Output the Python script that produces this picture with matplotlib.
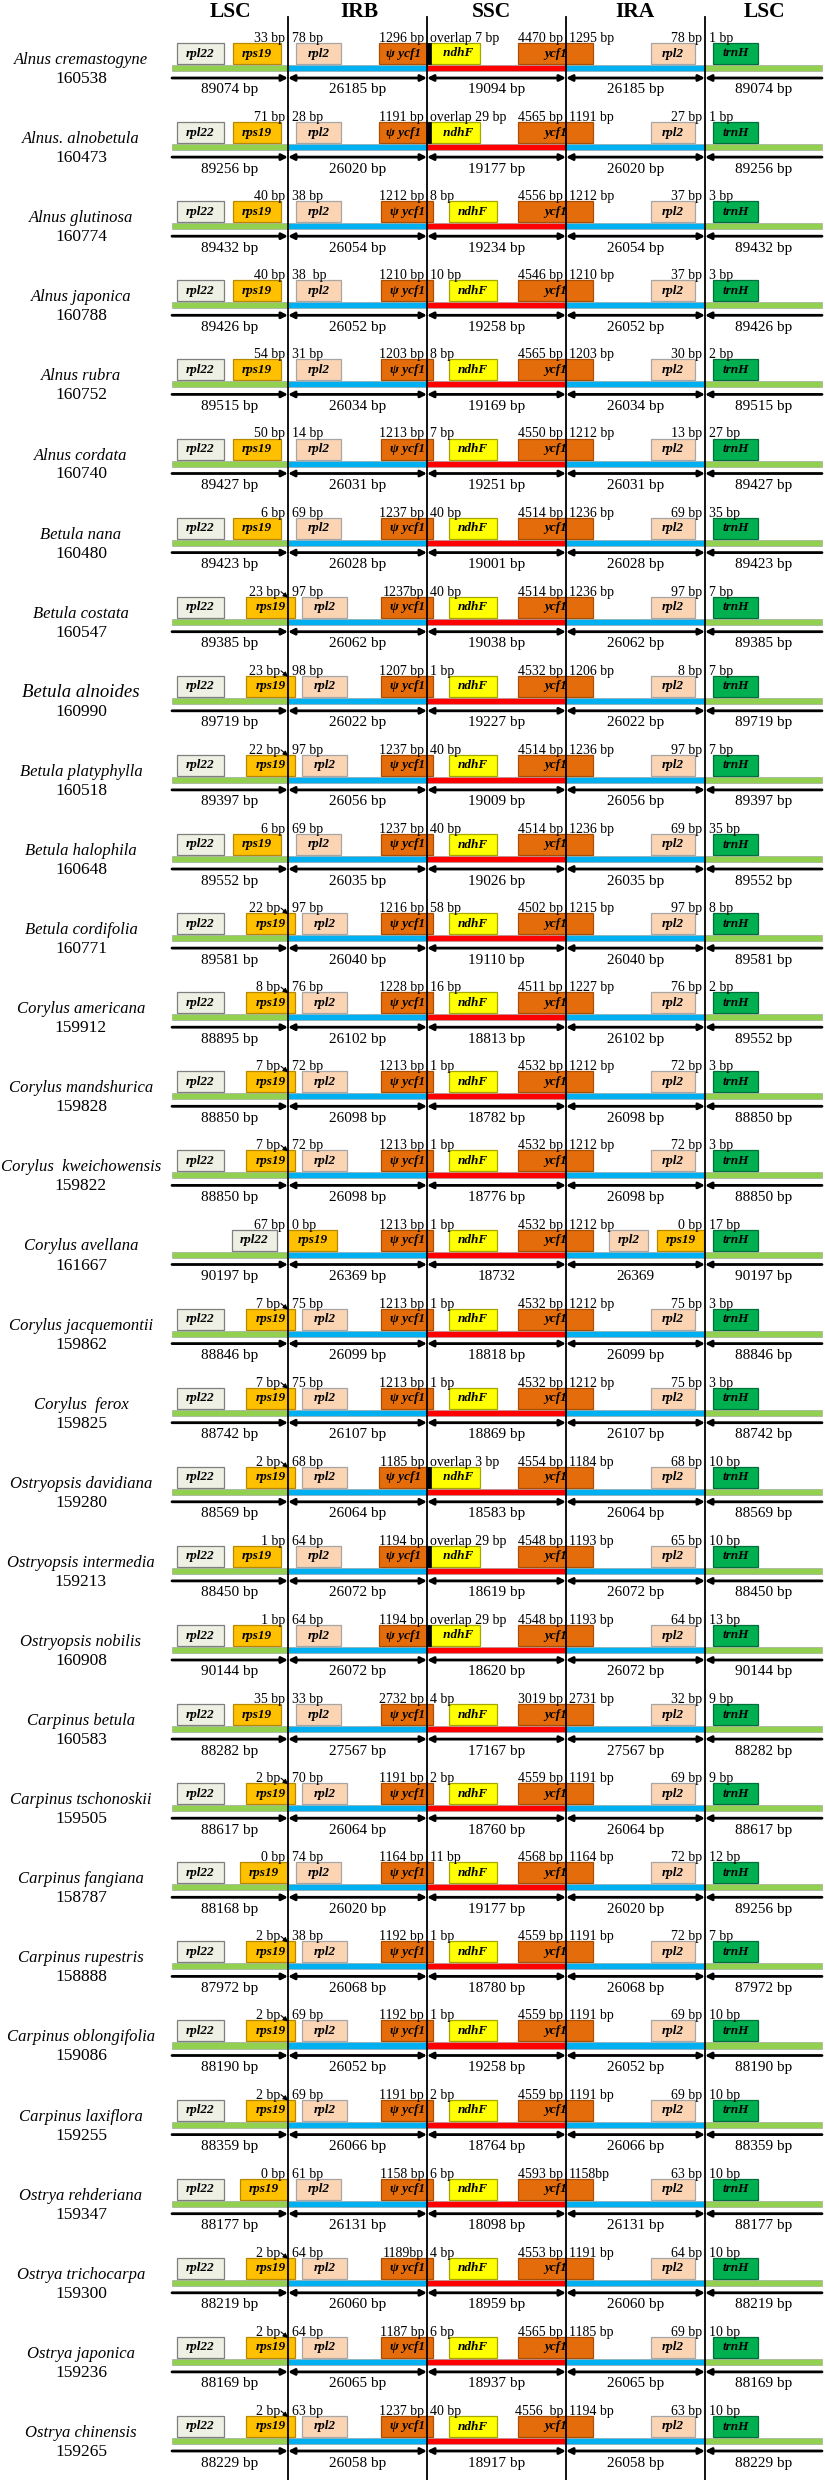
import matplotlib
matplotlib.use('Agg')
import matplotlib.pyplot as plt
from matplotlib.patches import Rectangle

plt.rcParams['font.family'] = ['Liberation Serif', 'DejaVu Serif']

# ---- data ----
species = ['Alnus cremastogyne', 'Alnus. alnobetula', 'Alnus glutinosa', 'Alnus japonica',
           'Alnus rubra', 'Alnus cordata', 'Betula nana', 'Betula costata', 'Betula alnoides',
           'Betula platyphylla', 'Betula halophila', 'Betula cordifolia', 'Corylus americana',
           'Corylus mandshurica', 'Corylus  kweichowensis', 'Corylus avellana',
           'Corylus jacquemontii', 'Corylus  ferox', 'Ostryopsis davidiana',
           'Ostryopsis intermedia', 'Ostryopsis nobilis', 'Carpinus betula',
           'Carpinus tschonoskii', 'Carpinus fangiana', 'Carpinus rupestris',
           'Carpinus oblongifolia', 'Carpinus laxiflora', 'Ostrya rehderiana',
           'Ostrya trichocarpa', 'Ostrya japonica', 'Ostrya chinensis']
genome = [160538, 160473, 160774, 160788, 160752, 160740, 160480, 160547, 160990, 160518,
          160648, 160771, 159912, 159828, 159822, 161667, 159862, 159825, 159280, 159213,
          160908, 160583, 159505, 158787, 158888, 159086, 159255, 159347, 159300, 159236,
          159265]
lsc = [89074, 89256, 89432, 89426, 89515, 89427, 89423, 89385, 89719, 89397, 89552, 89581,
       88895, 88850, 88850, 90197, 88846, 88742, 88569, 88450, 90144, 88282, 88617, 88168,
       87972, 88190, 88359, 88177, 88219, 88169, 88229]
lsc_right = [89074, 89256, 89432, 89426, 89515, 89427, 89423, 89385, 89719, 89397, 89552, 89581,
             89552, 88850, 88850, 90197, 88846, 88742, 88569, 88450, 90144, 88282, 88617, 89256,
             87972, 88190, 88359, 88177, 88219, 88169, 88229]
ir = [26185, 26020, 26054, 26052, 26034, 26031, 26028, 26062, 26022, 26056, 26035, 26040,
      26102, 26098, 26098, 26369, 26099, 26107, 26064, 26072, 26072, 27567, 26064, 26020,
      26068, 26052, 26066, 26131, 26060, 26065, 26058]
ssc = [19094, 19177, 19234, 19258, 19169, 19251, 19001, 19038, 19227, 19009, 19026, 19110,
       18813, 18782, 18776, 18732, 18818, 18869, 18583, 18619, 18620, 17167, 18760, 19177,
       18780, 19258, 18764, 18098, 18959, 18937, 18917]

lab_rps19 = ['33 bp', '71 bp', '40 bp', '40 bp', '54 bp', '50 bp', '6 bp', '23 bp', '23 bp',
             '22 bp', '6 bp', '22 bp', '8 bp', '7 bp', '7 bp', '67 bp', '7 bp', '7 bp', '2 bp',
             '1 bp', '1 bp', '35 bp', '2 bp', '0 bp', '2 bp', '2 bp', '2 bp', '0 bp', '2 bp',
             '2 bp', '2 bp']
lab_irb = ['78 bp', '28 bp', '38 bp', '38  bp', '31 bp', '14 bp', '69 bp', '97 bp', '98 bp',
           '97 bp', '69 bp', '97 bp', '76 bp', '72 bp', '72 bp', '0 bp', '75 bp', '75 bp',
           '68 bp', '64 bp', '64 bp', '33 bp', '70 bp', '74 bp', '38 bp', '69 bp', '69 bp',
           '61 bp', '64 bp', '64 bp', '63 bp']
lab_psi = ['1296 bp', '1191 bp', '1212 bp', '1210 bp', '1203 bp', '1213 bp', '1237 bp',
           '1237bp', '1207 bp', '1237 bp', '1237 bp', '1216 bp', '1228 bp', '1213 bp',
           '1213 bp', '1213 bp', '1213 bp', '1213 bp', '1185 bp', '1194 bp', '1194 bp',
           '2732 bp', '1191 bp', '1164 bp', '1192 bp', '1192 bp', '1191 bp', '1158 bp',
           '1189bp', '1187 bp', '1237 bp']
lab_ndhf = ['overlap 7 bp', 'overlap 29 bp', '8 bp', '10 bp', '8 bp', '7 bp', '40 bp', '40 bp',
            '1 bp', '40 bp', '40 bp', '58 bp', '16 bp', '1 bp', '1 bp', '1 bp', '1 bp', '1 bp',
            'overlap 3 bp', 'overlap 29 bp', 'overlap 29 bp', '4 bp', '2 bp', '11 bp', '1 bp',
            '1 bp', '2 bp', '6 bp', '4 bp', '6 bp', '40 bp']
lab_ycf1 = ['4470 bp', '4565 bp', '4556 bp', '4546 bp', '4565 bp', '4550 bp', '4514 bp',
            '4514 bp', '4532 bp', '4514 bp', '4514 bp', '4502 bp', '4511 bp', '4532 bp',
            '4532 bp', '4532 bp', '4532 bp', '4532 bp', '4554 bp', '4548 bp', '4548 bp',
            '3019 bp', '4559 bp', '4568 bp', '4559 bp', '4559 bp', '4559 bp', '4593 bp',
            '4553 bp', '4565 bp', '4556  bp']
lab_ira = ['1295 bp', '1191 bp', '1212 bp', '1210 bp', '1203 bp', '1212 bp', '1236 bp',
           '1236 bp', '1206 bp', '1236 bp', '1236 bp', '1215 bp', '1227 bp', '1212 bp',
           '1212 bp', '1212 bp', '1212 bp', '1212 bp', '1184 bp', '1193 bp', '1193 bp',
           '2731 bp', '1191 bp', '1164 bp', '1191 bp', '1191 bp', '1191 bp', '1158bp',
           '1191 bp', '1185 bp', '1194 bp']
lab_rpl2 = ['78 bp', '27 bp', '37 bp', '37 bp', '30 bp', '13 bp', '69 bp', '97 bp', '8 bp',
            '97 bp', '69 bp', '97 bp', '76 bp', '72 bp', '72 bp', '0 bp', '75 bp', '75 bp',
            '68 bp', '65 bp', '64 bp', '32 bp', '69 bp', '72 bp', '72 bp', '69 bp', '69 bp',
            '63 bp', '64 bp', '69 bp', '63 bp']
lab_trnh = ['1 bp', '1 bp', '3 bp', '3 bp', '2 bp', '27 bp', '35 bp', '7 bp', '7 bp', '7 bp',
            '35 bp', '8 bp', '2 bp', '3 bp', '3 bp', '17 bp', '3 bp', '3 bp', '10 bp', '10 bp',
            '13 bp', '9 bp', '9 bp', '12 bp', '7 bp', '10 bp', '10 bp', '10 bp', '10 bp',
            '10 bp', '10 bp']

# where rps19 sits at the LSC/IRb junction
rps19_pos = ['in', 'in', 'in', 'in', 'in', 'in', 'in', 'cross', 'cross', 'cross', 'in', 'cross',
             'cross', 'cross', 'cross', 'irb', 'cross', 'cross', 'cross', 'in', 'in', 'in',
             'cross', 'edge', 'cross', 'cross', 'cross', 'edge', 'cross', 'cross', 'cross']
no_bp = {(15, 'ssc'), (15, 'ira')}   # Corylus avellana prints these without "bp"

regions = ['LSC', 'IRB', 'SSC', 'IRA', 'LSC']

# ---- layout ----
W, H = 825, 2480
JL = [288, 427, 566, 705]        # junction lines
X0, X1 = 172, 822
C = dict(rpl22='#EEF0E3', rps19='#FFC000', rpl2='#FBD4B4', ycf1='#E46C0A',
         ndhF='#FFFF00', trnH='#00B050', lsc='#92D050', ir='#00B0F0', ssc='#FF0000')
EC = dict(rpl22='#7F7F7F', rps19='#B58800', rpl2='#A6A6A6', ycf1='#A84F07',
          ndhF='#A6A600', trnH='#00703A')

fig = plt.figure(figsize=(W / 100, H / 100), dpi=100)
ax = fig.add_axes([0, 0, 1, 1])
ax.set_xlim(0, W)
ax.set_ylim(H, 0)
ax.axis('off')

# header
for name, xc in zip(regions, [231, 359, 491, 635, 764]):
    ax.text(xc, 12, name, ha='center', va='center', fontsize=15.5, fontweight='bold')
for x in JL:
    ax.plot([x, x], [17, H], color='black', lw=1.3, zorder=6)


def gene(x0, x1, y0, key, name):
    ax.add_patch(Rectangle((x0, y0 - 25), x1 - x0, 21, fc=C[key], ec=EC[key], lw=0.9, zorder=3))
    ax.text((x0 + x1) / 2, y0 - 14.5, name, ha='center', va='center', fontsize=9.5,
            fontweight='bold', style='italic', zorder=4)


def num(x, y0, s, ha):
    ax.text(x, y0 - 26, s, ha=ha, va='baseline', fontsize=10, zorder=7)


for i in range(len(species)):
    y0 = 68 + 79.1 * i

    # species and genome size
    fs = 13.5 if species[i] == 'Betula alnoides' else 12
    ax.text(81, y0 - 8, species[i], ha='center', va='center', fontsize=fs, style='italic')
    ax.text(81, y0 + 11, str(genome[i]), ha='center', va='center', fontsize=12.5)

    # region bar
    edges = [X0] + JL + [X1]
    cols = [C['lsc'], C['ir'], C['ssc'], C['ir'], C['lsc']]
    for a, b, c in zip(edges[:-1], edges[1:], cols):
        ax.add_patch(Rectangle((a, y0 - 3), b - a, 6, fc=c, ec='#9a9a9a', lw=0.4, zorder=2))

    # length arrows
    ya = y0 + 10
    ap = dict(lw=2, color='black', shrinkA=0, shrinkB=0, mutation_scale=9)
    ax.annotate('', xy=(JL[0], ya), xytext=(X0, ya), arrowprops=dict(arrowstyle='-|>', **ap))
    for a, b in zip(JL[:-1], JL[1:]):
        ax.annotate('', xy=(b, ya), xytext=(a, ya), arrowprops=dict(arrowstyle='<|-|>', **ap))
    ax.annotate('', xy=(JL[3], ya), xytext=(X1, ya), arrowprops=dict(arrowstyle='-|>', **ap))

    sizes = [(lsc[i], 'lsc'), (ir[i], 'irb'), (ssc[i], 'ssc'), (ir[i], 'ira'),
             (lsc_right[i], 'lscr')]
    for (v, k), a, b in zip(sizes, edges[:-1], edges[1:]):
        s = str(v) if (i, k) in no_bp else f'{v} bp'
        ax.text((a + b) / 2, y0 + 22, s, ha='center', va='center', fontsize=11)

    # genes
    pos = rps19_pos[i]
    overlap = lab_ndhf[i].startswith('overlap')
    if pos == 'irb':
        gene(232, 277, y0, 'rpl22', 'rpl22')
        gene(288, 337, y0, 'rps19', 'rps19')
        gene(609, 648, y0, 'rpl2', 'rpl2')
        gene(657, 704, y0, 'rps19', 'rps19')
    else:
        gene(177, 224, y0, 'rpl22', 'rpl22')
        rx = {'in': (233, 281), 'cross': (246, 295), 'edge': (240, 288)}[pos]
        gene(rx[0], rx[1], y0, 'rps19', 'rps19')
        lx = (302, 347) if pos == 'cross' else (296, 341)
        gene(lx[0], lx[1], y0, 'rpl2', 'rpl2')
        gene(651, 695, y0, 'rpl2', 'rpl2')
    if overlap:
        gene(379, 427, y0, 'ycf1', 'ψ ycf1')
        gene(427, 480, y0, 'ndhF', '   ndhF')
        ax.add_patch(Rectangle((427, y0 - 25), 4, 21, fc='black', ec='black', lw=0.5, zorder=4))
    else:
        gene(381, 433, y0, 'ycf1', 'ψ ycf1')
        gene(449, 497, y0, 'ndhF', 'ndhF')
    gene(518, 593, y0, 'ycf1', 'ycf1')
    gene(713, 758, y0, 'trnH', 'trnH')

    # junction distances
    if pos == 'cross':
        num(280, y0, lab_rps19[i], 'right')
        ax.annotate('', xy=(288, y0 - 24), xytext=(281, y0 - 30),
                    arrowprops=dict(arrowstyle='-|>', lw=0.8, color='black',
                                    shrinkA=0, shrinkB=0, mutation_scale=7), zorder=7)
    else:
        num(285, y0, lab_rps19[i], 'right')
    num(292, y0, lab_irb[i], 'left')
    num(424, y0, lab_psi[i], 'right')
    num(430, y0, lab_ndhf[i], 'left')
    num(563, y0, lab_ycf1[i], 'right')
    num(569, y0, lab_ira[i], 'left')
    num(702, y0, lab_rpl2[i], 'right')
    num(709, y0, lab_trnh[i], 'left')

fig.savefig('out.png', dpi=100)
